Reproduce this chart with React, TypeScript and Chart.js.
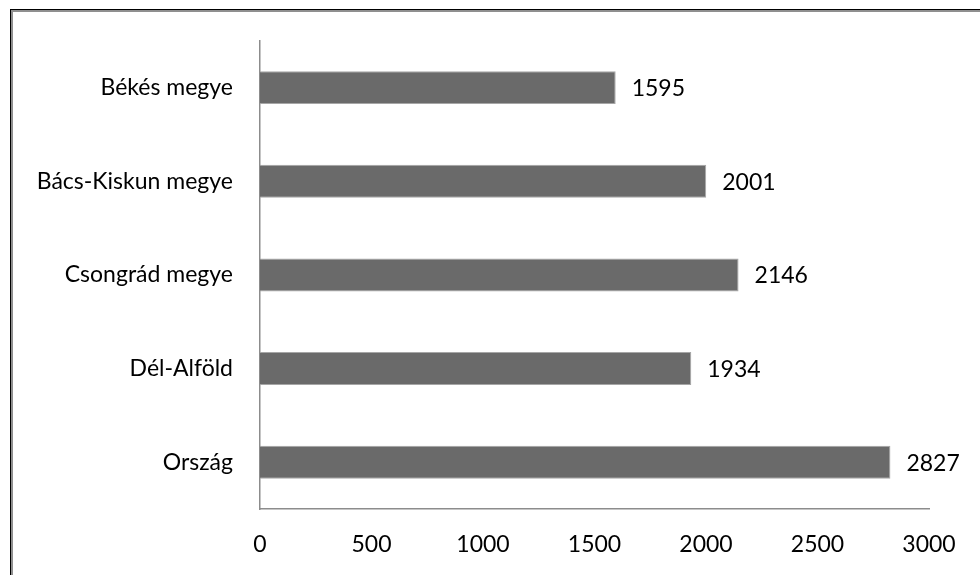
import React, { useEffect, useRef } from "react";
import { Chart, registerables } from "chart.js";

Chart.register(...registerables);

const categories = ["Békés megye", "Bács-Kiskun megye", "Csongrád megye", "Dél-Alföld", "Ország"];
const values = [1595, 2001, 2146, 1934, 2827];
const xTicks = [0, 500, 1000, 1500, 2000, 2500, 3000];

const FONT = "Lato";

const valueLabels = {
  id: "valueLabels",
  afterDatasetsDraw(chart: any) {
    const ctx = chart.ctx;
    const meta = chart.getDatasetMeta(0);
    ctx.save();
    ctx.font = `23px ${FONT}`;
    ctx.fillStyle = "#000";
    ctx.textAlign = "left";
    ctx.textBaseline = "middle";
    meta.data.forEach((el: any, i: number) => {
      ctx.fillText(String(values[i]), el.x + 16, el.y + 1);
    });
    ctx.restore();
  },
};

export default function App() {
  const ref = useRef<HTMLCanvasElement>(null);
  useEffect(() => {
    if (!ref.current) return;
    const chart = new Chart(ref.current, {
      type: "bar",
      data: {
        labels: categories,
        datasets: [
          {
            data: values,
            backgroundColor: "#6a6a6a",
            borderColor: "#a6a6a6",
            borderWidth: 1,
            barPercentage: 0.352,
            categoryPercentage: 1,
          },
        ],
      },
      options: {
        indexAxis: "y",
        animation: false,
        responsive: false,
        maintainAspectRatio: false,
        layout: { padding: { top: 40, right: 51, bottom: 0, left: 0 } },
        plugins: { legend: { display: false }, tooltip: { enabled: false } },
        scales: {
          x: {
            min: 0,
            max: 3000,
            afterBuildTicks: (scale: any) => {
              scale.ticks = xTicks.map((v) => ({ value: v }));
            },
            afterFit: (scale: any) => {
              scale.height = 66;
            },
            grid: { display: false, drawTicks: false },
            border: { display: true, color: "#8c8c8c", width: 1.5 },
            ticks: {
              color: "#000",
              font: { family: FONT, size: 23 },
              padding: 22,
              maxRotation: 0,
              autoSkip: false,
              callback: (v: any) => String(v),
            },
          },
          y: {
            afterFit: (scale: any) => {
              scale.width = 260;
            },
            grid: { display: false, drawTicks: false },
            border: { display: true, color: "#8c8c8c", width: 1.5 },
            ticks: {
              color: "#000",
              font: { family: FONT, size: 23 },
              padding: 27,
            },
          },
        },
      },
      plugins: [valueLabels],
    });
    return () => chart.destroy();
  }, []);

  return (
    <div style={{ position: "fixed", left: 0, top: 0, width: 980, height: 575, background: "#fff", overflow: "hidden" }}>
      <div
        style={{
          position: "absolute",
          left: 10,
          top: 9,
          width: 1000,
          height: 600,
          borderTop: "1px solid #000",
          borderLeft: "1px solid #000",
        }}
      >
        <div
          style={{
            position: "absolute",
            left: 0,
            top: 0,
            width: 1000,
            height: 600,
            borderTop: "2px solid #8f8f8f",
            borderLeft: "2px solid #8f8f8f",
          }}
        />
      </div>
      <canvas ref={ref} width={980} height={575} style={{ position: "absolute", left: 0, top: 0 }} />
    </div>
  );
}
